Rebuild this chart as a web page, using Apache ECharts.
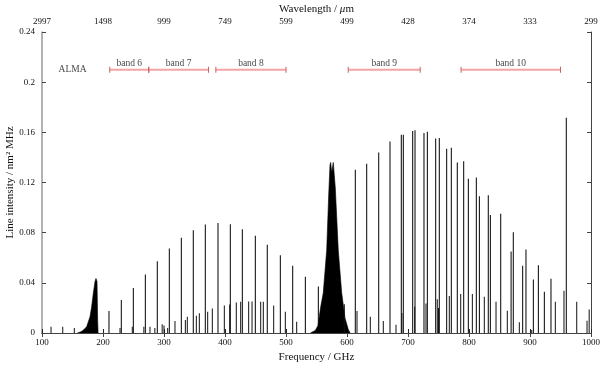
<!DOCTYPE html>
<html>
<head>
<meta charset="utf-8">
<script src="https://cdn.jsdelivr.net/npm/echarts@6/dist/echarts.min.js"></script>
<style>
  html, body { margin: 0; padding: 0; background: #fff; }
  #chart { width: 600px; height: 367px; }
</style>
</head>
<body>
<div id="chart"></div>
<script>
// line positions (GHz) and intensities (nm^2 MHz)
var lineFreqs = [
  209.8, 230, 249.7, 269.4, 289, 308.7, 328.4, 348, 367.7, 388.5, 408.7, 428.4,
  449.7, 469.3, 490.7, 511, 531.7, 553, 613.6, 632.3, 652, 670.5, 689, 692.3,
  707.7, 711.5, 726.2, 731.7, 745.4, 751.3, 763.4, 771, 780.8, 791.3, 798.9,
  812, 817, 831.6, 835, 852, 869, 872.6, 888, 893.4, 905.5, 913.7, 923.5,
  934.4, 959.5
];
var lineIntens = [
  0.0175, 0.0263, 0.0358, 0.0467, 0.0573, 0.0674, 0.0759, 0.082, 0.0865, 0.0878, 0.0868, 0.0828,
  0.0775, 0.0703, 0.062, 0.0536, 0.0448, 0.037, 0.1302, 0.135, 0.144, 0.1526, 0.158, 0.158,
  0.161, 0.1616, 0.1594, 0.1605, 0.155, 0.1555, 0.147, 0.1478, 0.1359, 0.1369, 0.123,
  0.124, 0.109, 0.1098, 0.094, 0.095, 0.065, 0.0804, 0.0536, 0.0666, 0.0427, 0.0541, 0.0329,
  0.0432, 0.1717
];
// weaker lines near the baseline
var weakFreqs = [
  114.8, 134, 153, 227.9, 248, 267, 277, 285, 297, 300, 306, 318, 335, 338.2,
  353, 357.9, 371.6, 379.2, 398.9, 407.7, 418.5, 425.7, 438.8, 444.3, 458.5,
  462.8, 479.8, 498.9, 517.5, 595.6, 616.4, 638.2, 659.5, 680.3, 690, 711,
  729.5, 748, 750, 767.7, 786.4, 805.5, 825.1, 844.3, 862.8, 882.5, 902.8,
  941.5, 955.7, 976.6, 993.5, 997
];
var weakIntens = [
  0.005, 0.005, 0.004, 0.004, 0.005, 0.005, 0.005, 0.004, 0.007, 0.006, 0.004, 0.0095, 0.0104, 0.013,
  0.0138, 0.0157, 0.017, 0.0196, 0.022, 0.0228, 0.0244, 0.025, 0.0252, 0.0252, 0.025,
  0.025, 0.022, 0.017, 0.009, 0.023, 0.0175, 0.013, 0.0095, 0.0066, 0.016, 0.021,
  0.0236, 0.027, 0.02, 0.0295, 0.031, 0.031, 0.029, 0.025, 0.0178, 0.0085, 0.0024,
  0.025, 0.0337, 0.025, 0.0098, 0.0188
];
// dense line blends around 183 and 575 GHz (envelope)
var blendLowFreqs = [158, 164, 168, 173.2, 178.7, 181.4, 184.1, 186.9, 188.5, 190.2, 191.2, 192];
var blendLowIntens = [0, 0.001, 0.0024, 0.005, 0.013, 0.021, 0.0316, 0.041, 0.0435, 0.041, 0.01, 0];
var blendHighFreqs = [540, 548, 552.5, 556.9, 561.1, 566.7, 570, 572.1, 573.2, 575, 577.5, 580.8, 585.7, 591.3, 596.7, 602, 605];
var blendHighIntens = [0, 0.002, 0.006, 0.021, 0.032, 0.066, 0.11, 0.134, 0.136, 0.128, 0.136, 0.116, 0.066, 0.032, 0.012, 0.003, 0];

// ALMA receiver bands (GHz)
var bandNames = ['band 6', 'band 7', 'band 8', 'band 9', 'band 10'];
var bandStart = [211, 275, 385, 602, 787];
var bandEnd = [275, 373, 500, 720, 950];
var bandLevel = 0.21;

var freqTicks = [100, 200, 300, 400, 500, 600, 700, 800, 900, 1000];
var waveLabels = ['2997', '1498', '999', '749', '599', '499', '428', '374', '333', '299'];

var font = 'Liberation Serif';
var pairs = function(xs, ys) { return xs.map(function(x, i) { return [x, ys[i]]; }); };

var series = [];
series.push({
  type: 'line', data: pairs(blendLowFreqs, blendLowIntens), symbol: 'none',
  lineStyle: { color: '#000', width: 0.6 }, areaStyle: { color: '#000', opacity: 1 }, z: 2
});
series.push({
  type: 'line', data: pairs(blendHighFreqs, blendHighIntens), symbol: 'none',
  lineStyle: { color: '#000', width: 0.6 }, areaStyle: { color: '#000', opacity: 1 }, z: 2
});
series.push({
  type: 'bar', data: pairs(lineFreqs, lineIntens), barWidth: 1,
  itemStyle: { color: '#000' }, z: 3
});
series.push({
  type: 'bar', data: pairs(weakFreqs, weakIntens), barWidth: 1, barGap: '-100%',
  itemStyle: { color: '#111' }, z: 3
});
bandNames.forEach(function(name, i) {
  series.push({
    type: 'line', data: [[bandStart[i], bandLevel], [bandEnd[i], bandLevel]],
    symbol: 'rect', symbolSize: [1, 6],
    itemStyle: { color: '#d06060' },
    lineStyle: { color: '#f4a4a4', width: 2 }, z: 4
  });
});
series.push({
  type: 'scatter', symbolSize: 0, z: 5,
  data: bandNames.map(function(name, i) {
    return [(bandStart[i] + bandEnd[i]) / 2, bandLevel, name];
  }),
  label: {
    show: true, position: 'top', distance: 1,
    formatter: function(p) { return p.data[2]; },
    fontFamily: font, fontSize: 9.5, color: '#111'
  }
});
series.push({
  type: 'scatter', symbolSize: 0, z: 5,
  data: [[150, bandLevel, 'ALMA']],
  label: {
    show: true, position: 'inside',
    formatter: function(p) { return p.data[2]; },
    fontFamily: font, fontSize: 9.5, color: '#111'
  }
});

var chart = echarts.init(document.getElementById('chart'));
chart.setOption({
  animation: false,
  backgroundColor: '#fff',
  grid: { left: 42, right: 9, top: 32, bottom: 34, containLabel: false, outerBoundsMode: 'none' },
  xAxis: [
    {
      type: 'value', min: 100, max: 1000, interval: 100,
      name: 'Frequency / GHz', nameLocation: 'middle', nameGap: 19, nameMoveOverlap: false,
      nameTextStyle: { fontFamily: font, fontSize: 11, color: '#111' },
      axisLine: { lineStyle: { color: '#222', width: 1 } },
      axisTick: { inside: true, length: 4, lineStyle: { color: '#222' } },
      axisLabel: {
        margin: 5, fontFamily: font, fontSize: 9, color: '#111',
        formatter: function(v) { return String(Math.round(v)); }
      },
      splitLine: { show: false }
    },
    {
      type: 'value', position: 'top', min: 100, max: 1000, interval: 100,
      name: 'Wavelength / {i|μ}m', nameLocation: 'middle', nameGap: 17, nameMoveOverlap: false,
      nameTextStyle: {
        fontFamily: font, fontSize: 11, color: '#111',
        rich: { i: { fontFamily: font, fontSize: 11, fontStyle: 'italic', color: '#111' } }
      },
      axisLine: { show: true, lineStyle: { color: '#444', width: 1 } },
      axisTick: { inside: true, length: 4, lineStyle: { color: '#444' } },
      axisLabel: {
        margin: 6, fontFamily: font, fontSize: 9, color: '#111',
        formatter: function(v) { return waveLabels[freqTicks.indexOf(Math.round(v))]; }
      },
      splitLine: { show: false }
    }
  ],
  yAxis: [
    {
      type: 'value', min: 0, max: 0.24, interval: 0.04,
      name: 'Line intensity / nm² MHz', nameLocation: 'middle', nameGap: 26, nameMoveOverlap: false,
      nameTextStyle: { fontFamily: font, fontSize: 11, color: '#111' },
      axisLine: { show: true, lineStyle: { color: '#999', width: 1.5 } },
      axisTick: { inside: true, length: 4, lineStyle: { color: '#444' } },
      axisLabel: {
        margin: 7, fontFamily: font, fontSize: 9, color: '#111',
        formatter: function(v) { return String(Math.round(v * 100) / 100); }
      },
      splitLine: { show: false }
    },
    {
      type: 'value', position: 'right', min: 0, max: 0.24, interval: 0.04,
      axisLine: { show: true, lineStyle: { color: '#444', width: 1 } },
      axisTick: { inside: true, length: 4, lineStyle: { color: '#444' } },
      axisLabel: { show: false },
      splitLine: { show: false }
    }
  ],
  series: series
});
</script>
</body>
</html>
